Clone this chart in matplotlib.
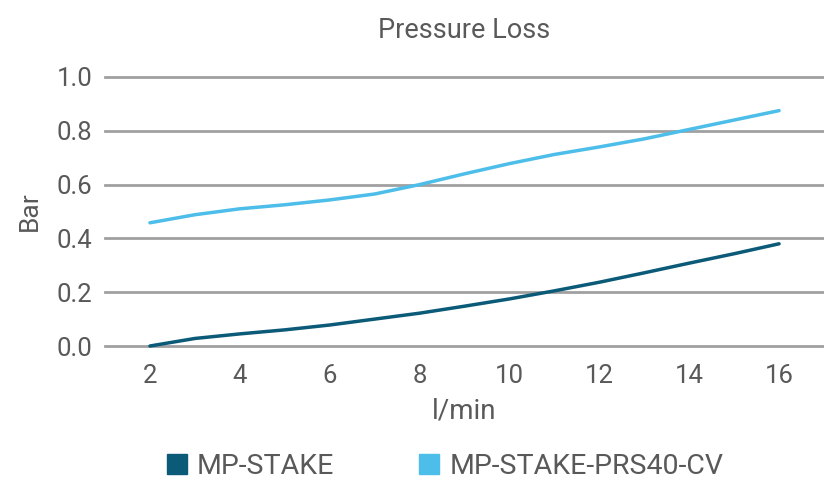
import matplotlib.pyplot as plt
from matplotlib.lines import Line2D

flow = [2, 3, 4, 5, 6, 7, 8, 9, 10, 11, 12, 13, 14, 15, 16]
mp_stake = [0.0, 0.028, 0.045, 0.06, 0.078, 0.10, 0.122, 0.148, 0.175, 0.205, 0.237, 0.272, 0.308, 0.343, 0.38]
mp_prs40 = [0.458, 0.488, 0.51, 0.525, 0.543, 0.565, 0.60, 0.64, 0.678, 0.712, 0.74, 0.77, 0.805, 0.84, 0.875]
xticks = [2, 4, 6, 8, 10, 12, 14, 16]
yticks = [0.0, 0.2, 0.4, 0.6, 0.8, 1.0]

dark = '#0b5a78'
light = '#4dbde9'
txt = '#595959'

plt.rcParams['font.family'] = ['Roboto', 'DejaVu Sans']

fig = plt.figure(figsize=(8.24, 4.82), dpi=100)
ax = fig.add_axes([105/824, 1 - 346/482, 1 - 105/824, 269/482])

for y in yticks:
    ax.axhline(y, color='#a0a0a0', linewidth=2, clip_on=False, zorder=1)

ax.plot(flow, mp_stake, color=dark, linewidth=2.5, solid_capstyle='round', zorder=3, clip_on=False)
ax.plot(flow, mp_prs40, color=light, linewidth=2.5, solid_capstyle='round', zorder=3, clip_on=False)

ax.set_xlim(1, 17)
ax.set_ylim(0, 1)
ax.set_xticks(xticks)
ax.set_yticks(yticks)
ax.set_yticklabels([f'{v:.1f}' for v in yticks])
ax.tick_params(length=0, labelsize=18.5, labelcolor=txt)
ax.tick_params(axis='x', pad=13)
ax.tick_params(axis='y', pad=9)
for s in ax.spines.values():
    s.set_visible(False)

ax.set_xlabel('l/min', fontsize=20, color=txt, labelpad=7)
ax.set_ylabel('Bar', fontsize=19, color=txt, labelpad=11)
ax.set_title('Pressure Loss', fontsize=19.5, color=txt, pad=28)

handles = [Line2D([], [], marker='s', linestyle='none', markersize=14, color=dark),
           Line2D([], [], marker='s', linestyle='none', markersize=14, color=light)]
fig.legend(handles, ['MP-STAKE', 'MP-STAKE-PRS40-CV'], loc='center left', bbox_to_anchor=(0.197, 0.032),
           ncol=2, frameon=False, fontsize=20.5, labelcolor=txt, handletextpad=0.2, columnspacing=2.85,
           handlelength=1.0, borderaxespad=0, borderpad=0)

fig.savefig('out.png', dpi=100)
print('saved out.png')
